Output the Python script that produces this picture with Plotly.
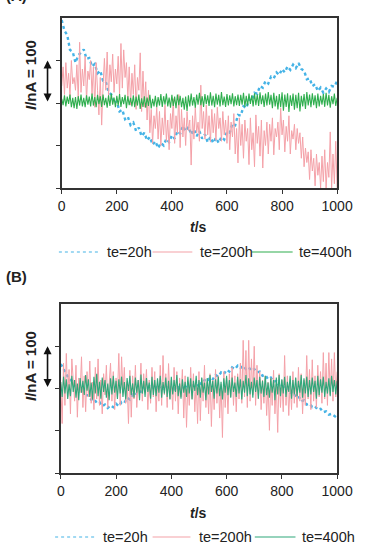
import plotly.graph_objects as go

W, H = 373, 547

# time axes (s)
t_fine = list(range(0, 1001, 5))
t_coarse = list(range(0, 1001, 10))
x_ticks = [0, 200, 400, 600, 800, 1000]
y_ticks = [-200, -100, 0, 100]
series_names = ["te=20h", "te=200h", "te=400h"]

# ---------------- Panel A ----------------
a_te20 = [195, 170, 160, 125, 120, 95, 112, 118, 126, 104,
          106, 86, 92, 70, 76, 52, 50, 26, 20, 0,
          4, -20, -16, -38, -32, -52, -46, -66, -58, -78,
          -70, -88, -80, -98, -90, -106, -94, -100, -84, -92,
          -76, -84, -66, -72, -54, -66, -56, -74, -62, -78,
          -66, -84, -74, -92, -80, -94, -82, -94, -80, -86,
          -68, -70, -48, -52, -28, -30, -8, -12, 8, 6,
          24, 22, 40, 36, 52, 46, 62, 58, 72, 66,
          80, 72, 86, 78, 90, 82, 94, 80, 76, 56,
          58, 40, 44, 28, 36, 24, 34, 26, 40, 38,
          52]

a_te200 = [40, 85, 20, 95, 35, 70, 15, 100, 45, 60,
           30, 90, 10, 143, 25, 80, 40, 110, 5, 75,
           55, 100, 20, 85, -10, 95, 30, -28, 60, -52,
           40, 105, 30, 120, 15, 90, 50, 115, 25, 80,
           45, 110, 20, 140, 35, 125, 60, 95, 10, 85,
           -5, 70, 20, 90, -15, 60, 30, 118, -20, 75,
           -10, 50, -40, 30, -70, -15, -95, -30, -60, -10,
           -85, -20, -100, -35, -75, -5, -90, -40, -110, -25,
           -60, 10, -95, -30, -70, 20, -105, -15, -80, -35,
           -100, -20, -65, -40, -146, -30, -85, -10, -70, -45,
           -90, 42, -60, -20, -85, -5, -75, -30, -92, -15,
           -70, -25, -88, -10, -60, -35, -90, -20, -75, -40,
           -95, -30, -110, -45, -80, -25, -120, -60, -141, -35,
           -100, -50, -130, -40, -90, -60, -145, -35, -110, -70,
           -150, -28, -95, -55, -125, -40, -153, -65, -100, -45,
           -120, -50, -90, -35, -122, -60, -80, -45, -110, -12,
           -75, -40, -115, -55, -90, -30, -120, -65, -85, -50,
           -110, -60, -95, -70, -130, -80, -150, -106, -140, -115,
           -180, -110, -160, -130, -195, -120, -170, -140, -200, -125,
           -185, -110, -200, -140, -175, -68, -200, -120, -190, -90,
           -200]

a_te400 = [10, -5, 18, -8, 15, -2, 20, -10, 12, -12,
           14, -14, 16, -6, 20, -8, 12, -10, 18, -4,
           15, -8, 22, -6, 14, -10, 19, -3, 16, -9,
           20, -5, 12, -11, 18, -7, 22, -4, 13, -10,
           17, -6, 21, -9, 14, -3, 19, -12, 16, -5,
           12, -8, 18, -10, 15, -6, 20, -14, 11, -9,
           16, -11, 13, -7, 19, -13, 10, -8, 17, -10,
           14, -6, 21, -9, 16, -4, 22, -8, 13, -11,
           19, -7, 15, -12, 20, -5, 17, -10, 12, -16,
           15, -19, 18, -8, 22, -6, 14, -11, 20, -4,
           24, -5, 16, -9, 21, -3, 18, -7, 25, -6,
           17, -10, 22, -4, 19, -8, 26, -5, 15, -9,
           21, -6, 18, -3, 23, -8, 16, -5, 20, -7,
           19, -4, 24, -9, 17, -6, 22, -2, 18, -8,
           23, -5, 20, -7, 25, -3, 18, -9, 22, -6,
           26, -4, 19, -12, 24, -8, 17, -15, 21, -10,
           25, -18, 20, -9, 23, -21, 18, -7, 22, -16,
           19, -12, 24, -20, 17, -8, 21, -14, 26, -6,
           20, -10, 23, -5, 18, -12, 22, -8, 17, -4,
           21, -9, 24, -6, 19, -11, 16, -3, 22, -7,
           12]

# ---------------- Panel B ----------------
b_te20 = [58, 46, 34, 22, 18, 6, 4, -6, -8, -16,
          -16, -26, -24, -34, -32, -42, -38, -46, -40, -44,
          -36, -42, -32, -34, -22, -26, -14, -16, -6, -8,
          2, -2, 6, 0, 8, 2, 6, 0, 6, -2,
          4, -2, 6, 0, 4, -2, 6, 2, 10, 6,
          14, 10, 20, 16, 26, 22, 32, 28, 38, 34,
          44, 40, 50, 46, 54, 48, 54, 46, 50, 42,
          46, 38, 40, 30, 32, 22, 26, 16, 18, 8,
          10, 0, 2, -10, -8, -20, -18, -30, -28, -38,
          -36, -44, -42, -50, -48, -56, -54, -62, -60, -66,
          -70]

b_te200 = [10, -83, 60, -40, 83, -20, 45, -60, 70, 5,
           -30, 55, -68, 25, -10, 75, -45, 30, -55, 40,
           -20, 65, -35, 15, -50, 50, -25, 70, -40, 20,
           -60, 35, -15, 55, -45, 10, 60, -30, 40, -50,
           25, -20, 83, -40, 75, -10, 50, -35, 15, -83,
           43, -68, 30, -25, 55, -45, 20, -15, 60, -30,
           35, -10, 45, -50, 20, -35, 50, -20, 40, -55,
           15, -30, 55, -40, 78, -15, 35, -45, 59, -25,
           20, -50, 50, -30, 40, -60, 25, -20, 45, -70,
           30, -92, 15, -40, 50, -25, 35, -55, 20, -83,
           40, -76, 25, -30, 55, -45, 15, -60, 35, -90,
           20, -50, 45, -35, 30, -70, 10, -116, 40, -45,
           25, -60, 35, -20, 50, -40, 30, -55, 35, -25,
           60, -35, 114, -20, 90, -45, 114, -30, 70, -15,
           100, -40, 55, -25, 40, -50, 20, -35, 30, -64,
           15, -99, 25, -40, 43, -60, 10, -104, 35, -45,
           20, -55, 78, -40, 30, -64, 15, -50, 40, -35,
           25, -45, 50, -30, 35, -60, 20, -40, 78, -25,
           45, -50, 68, -30, 30, -45, 55, -20, 40, -35,
           85, -25, 60, -40, 85, -15, 70, -30, 85, -20,
           40]

b_te400 = [15, -20, 28, -12, 22, -25, 10, -18, 30, -8,
           20, -22, 12, -28, 25, -10, 18, -15, 32, -5,
           22, -20, 14, -26, 28, -12, 35, -18, 16, -24,
           26, -8, 20, -22, 12, -28, 24, -14, 30, -10,
           18, -25, 22, -12, 28, -20, 15, -26, 25, -6,
           30, -15, 12, -22, 26, -10, 20, -28, 33, -12,
           18, -20, 25, -8, 14, -24, 28, -15, 20, -18,
           24, -10, 30, -22, 15, -12, 26, -20, 18, -26,
           28, -14, 20, -8, 32, -18, 12, -24, 22, -10,
           16, -20, 28, -12, 24, -26, 18, -6, 30, -16,
           20, -22, 26, -10, 14, -28, 25, -14, 32, -8,
           18, -24, 22, -12, 28, -18, 16, -26, 24, -10,
           30, -16, 20, -22, 26, -8, 14, -20, 28, -12,
           22, -26, 18, -10, 32, -18, 24, -14, 16, -22,
           26, -8, 20, -24, 28, -12, 18, -20, 30, -16,
           14, -22, 24, -10, 20, -28, 26, -14, 32, -18,
           22, -12, 28, -20, 16, -8, 30, -24, 20, -14,
           26, -18, 18, -10, 32, -22, 24, -12, 28, -20,
           20, -14, 26, -8, 18, -24, 30, -16, 22, -10,
           28, -20, 16, -12, 24, -18, 30, -8, 20, -14,
           18]

BLUE = "#45b3e6"
PINK = "#f4a1a8"
GREEN_A = "#2fae4e"
GREEN_B = "#2fa87a"
AXC = "#333333"
FONT = "Arial, Liberation Sans, sans-serif"

fig = go.Figure()

def add_panel(xa, ya, blue, pink, green, gcol):
    fig.add_trace(go.Scatter(x=t_coarse, y=blue, xaxis=xa, yaxis=ya, mode="lines",
                             line=dict(color=BLUE, width=2.4, dash="dot"),
                             name=series_names[0], showlegend=False))
    fig.add_trace(go.Scatter(x=t_fine, y=pink, xaxis=xa, yaxis=ya, mode="lines",
                             line=dict(color=PINK, width=1),
                             name=series_names[1], showlegend=False))
    fig.add_trace(go.Scatter(x=t_fine, y=green, xaxis=xa, yaxis=ya, mode="lines",
                             line=dict(color=gcol, width=1.1),
                             name=series_names[2], showlegend=False))

add_panel("x", "y", a_te20, a_te200, a_te400, GREEN_A)
add_panel("x2", "y2", b_te20, b_te200, b_te400, GREEN_B)

def px(x):
    return x / W

def py(y):
    return 1 - y / H

xcommon = dict(range=[0, 1000], tickvals=x_ticks, ticks="outside", ticklen=4,
               tickcolor=AXC, showline=True, linecolor=AXC, linewidth=1.5, mirror=True,
               showgrid=False, zeroline=False, tickfont=dict(size=14, color="#222", family=FONT))
ycommon = dict(range=[-200, 200], tickvals=y_ticks, ticks="outside", ticklen=4,
               tickcolor=AXC, showline=True, linecolor=AXC, linewidth=1.5, mirror=True,
               showgrid=False, zeroline=False, showticklabels=False)

fig.update_layout(
    width=W, height=H, margin=dict(l=0, r=0, t=0, b=0),
    paper_bgcolor="white", plot_bgcolor="white",
    font=dict(family=FONT, color="#222"),
    xaxis=dict(domain=[px(61), px(352)], anchor="y", **xcommon),
    yaxis=dict(domain=[py(188), py(18)], anchor="x", **ycommon),
    xaxis2=dict(domain=[px(60), px(352)], anchor="y2", **xcommon),
    yaxis2=dict(domain=[py(473), py(304)], anchor="x2", **ycommon),
)

ann = []
shapes = []

# panel letters ("(A)" is clipped at the top edge, as in the reference)
ann.append(dict(text="<b>(A)</b>", x=0, y=py(-5), xref="paper", yref="paper",
                xanchor="left", yanchor="middle", showarrow=False, font=dict(size=15)))
ann.append(dict(text="<b>(B)</b>", x=0, y=py(277), xref="paper", yref="paper",
                xanchor="left", yanchor="middle", showarrow=False, font=dict(size=15)))

# y labels and scale arrows
for yc, yref in [(75, "y"), (366, "y2")]:
    ann.append(dict(text="<b><i>I</i>/nA = 100</b>", x=px(27.5), y=py(yc), xref="paper",
                    yref="paper", textangle=-90, showarrow=False, font=dict(size=15),
                    xanchor="center", yanchor="middle"))
    ann.append(dict(text="", x=px(46), y=100, xref="paper", yref=yref,
                    ax=0, ay=0, axref="pixel", ayref=yref, showarrow=True,
                    arrowside="end+start", arrowhead=2, startarrowhead=2,
                    arrowsize=1, startarrowsize=1, arrowwidth=1.6, arrowcolor="#111"))

# x titles
for yc in [227, 513]:
    ann.append(dict(text="<b><i>t</i>/s</b>", x=px(206), y=py(yc), xref="paper",
                    yref="paper", showarrow=False, font=dict(size=14),
                    xanchor="center", yanchor="middle"))

# legends (drawn manually)
leg_rows = [
    (252, [(58, 102, 107), (157, 199, 205), (262, 305, 310)], GREEN_A),
    (537, [(54, 97, 102), (157, 197, 204), (265, 308, 313)], GREEN_B),
]
for yl, items, gcol in leg_rows:
    styles = [dict(color=BLUE, width=1.2, dash="dot"),
              dict(color=PINK, width=1.2),
              dict(color=gcol, width=1.2)]
    for (x0, x1, xt), st, nm in zip(items, styles, series_names):
        shapes.append(dict(type="line", xref="paper", yref="paper",
                           x0=px(x0), x1=px(x1), y0=py(yl), y1=py(yl), line=st))
        ann.append(dict(text=nm, x=px(xt), y=py(yl), xref="paper", yref="paper",
                        xanchor="left", yanchor="middle", showarrow=False,
                        font=dict(size=14.5, color="#222")))

fig.update_layout(annotations=ann, shapes=shapes)
fig.write_html("out.html")
